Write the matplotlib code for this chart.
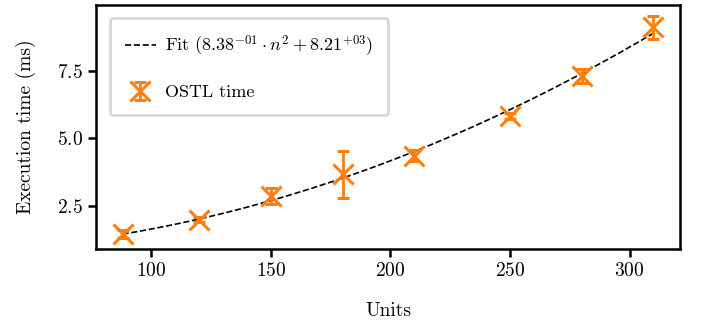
import numpy as np
import matplotlib.pyplot as plt

plt.rcParams['font.family'] = 'serif'
plt.rcParams['font.serif'] = ['cmr10']
plt.rcParams['mathtext.fontset'] = 'cm'
plt.rcParams['axes.formatter.use_mathtext'] = True
plt.rcParams['font.size'] = 14

# Measured execution times
units = [88, 120, 150, 180, 210, 250, 280, 310]
time_ms = [1.48, 2.00, 2.88, 3.67, 4.36, 5.83, 7.30, 9.09]
time_err = [0.15, 0.10, 0.30, 0.85, 0.20, 0.12, 0.25, 0.42]

# Quadratic fit coefficients (units of 0.1 us)
fit_a = 8.38e-01
fit_b = 8.21e+03

n = np.linspace(min(units), max(units), 200)
fit_ms = (fit_a * n**2 + fit_b) / 1e4

fig, ax = plt.subplots(figsize=(7.01, 3.26), dpi=100)
ax.plot(n, fit_ms, 'k--', lw=1.2,
        label=r'Fit ($8.38^{-01} \cdot n^2 + 8.21^{+03}$)')
ax.errorbar(units, time_ms, yerr=time_err, fmt='x', color='#ff7f0e',
            markersize=15, mew=2.2, elinewidth=2, capsize=4.5, capthick=2,
            label='OSTL time')

ax.set_xlabel('Units', labelpad=16)
ax.set_ylabel('Execution time (ms)', labelpad=15)
ax.set_yticks([2.5, 5.0, 7.5])
ax.set_xticks([100, 150, 200, 250, 300])
for s in ax.spines.values():
    s.set_linewidth(1.8)
ax.tick_params(width=1.8, length=6)

leg = ax.legend(loc='upper left', fancybox=True, framealpha=1, fontsize=13,
                borderpad=0.85, labelspacing=1.4, handlelength=1.7,
                handletextpad=0.5, borderaxespad=0.75)
leg.get_frame().set_edgecolor('#d8d8d8')
leg.get_frame().set_linewidth(2)

fig.subplots_adjust(left=0.137, right=0.970, top=0.985, bottom=0.236)
fig.savefig('out.png', dpi=100)
